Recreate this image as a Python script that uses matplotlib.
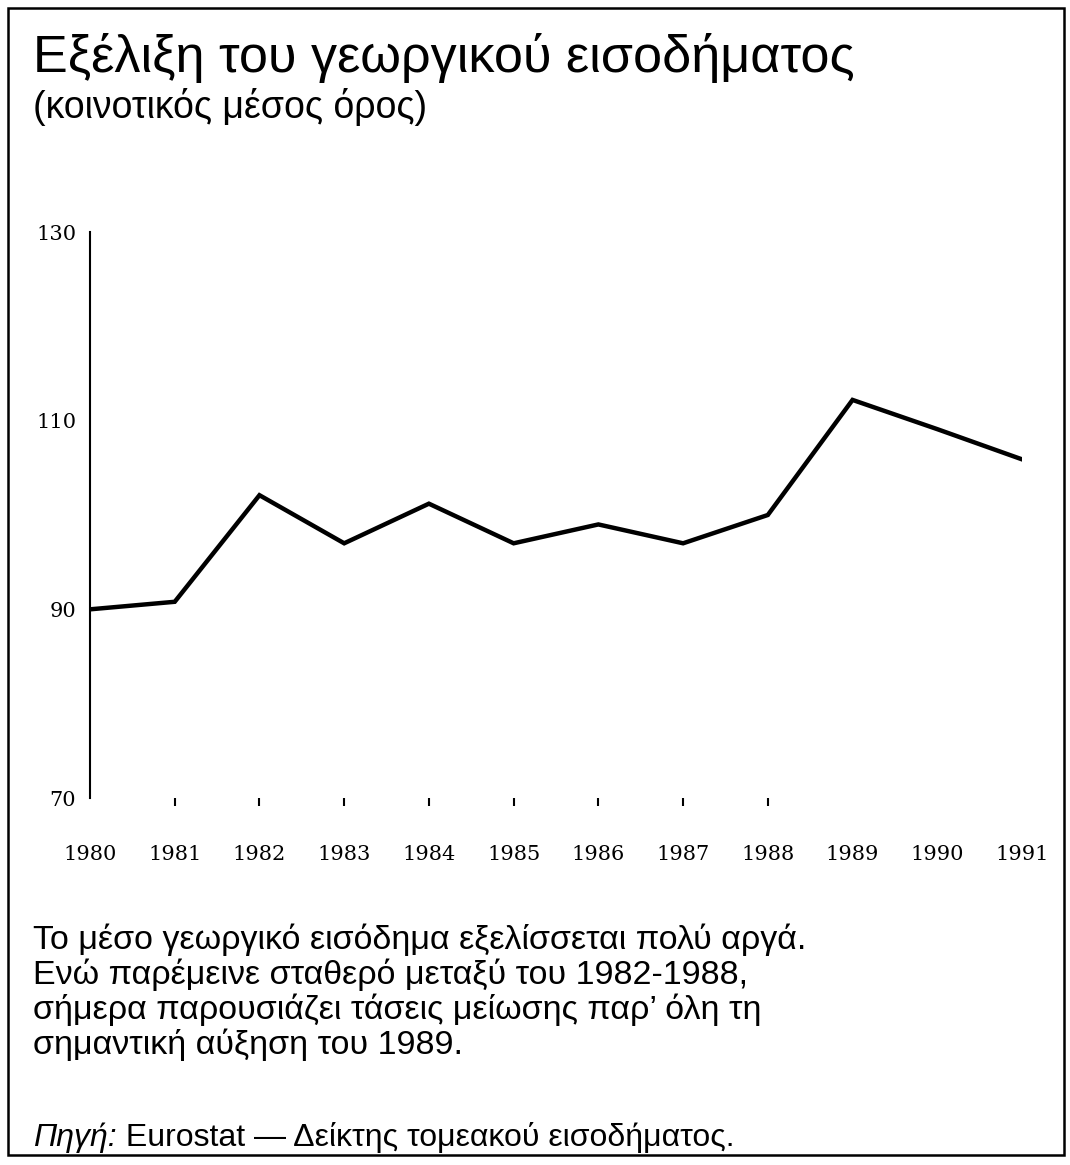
import matplotlib
matplotlib.use("Agg")
import matplotlib.pyplot as plt
from matplotlib.patches import Rectangle

years = [1980, 1981, 1982, 1983, 1984, 1985, 1986, 1987, 1988, 1989, 1990, 1991]
income = [90.0, 90.8, 102.1, 97.0, 101.2, 97.0, 99.0, 97.0, 100.0, 112.2, 109.1, 105.9]
yticks = [70, 90, 110, 130]
tick_years = [1981, 1982, 1983, 1984, 1985, 1986, 1987, 1988]

title = "Εξέλιξη του γεωργικού εισοδήματος"
subtitle = "(κοινοτικός μέσος όρος)"
body = ["Το μέσο γεωργικό εισόδημα εξελίσσεται πολύ αργά.",
        "Ενώ παρέμεινε σταθερό μεταξύ του 1982-1988,",
        "σήμερα παρουσιάζει τάσεις μείωσης παρ’ όλη τη",
        "σημαντική αύξηση του 1989."]
source_label = "Πηγή:"
source_text = " Eurostat — Δείκτης τομεακού εισοδήματος."

W, H = 1070, 1165
fig = plt.figure(figsize=(W / 100, H / 100), dpi=100)
fig.patch.set_facecolor("white")

sans = ["Liberation Sans", "DejaVu Sans"]
serif = ["DejaVu Serif", "Liberation Serif"]

ax = fig.add_axes([90 / W, 1 - 798 / H, (1022 - 90) / W, (798 - 232) / H])
ax.plot(years, income, color="black", linewidth=3.2, solid_joinstyle="miter")
ax.set_xlim(1980, 1991)
ax.set_ylim(70, 130)
for s in ["top", "right", "bottom"]:
    ax.spines[s].set_visible(False)
ax.spines["left"].set_linewidth(1.5)
ax.set_yticks(yticks)
ax.set_yticklabels([str(v) for v in yticks], fontfamily=serif, fontsize=15)
ax.tick_params(axis="y", length=0, pad=10)
ax.xaxis.remove_overlapping_locs = False
ax.set_xticks(years)
ax.set_xticklabels([str(y) for y in years], fontfamily=serif, fontsize=15)
ax.tick_params(axis="x", which="major", length=0, pad=34)
ax.set_xticks(tick_years, minor=True)
ax.tick_params(axis="x", which="minor", length=6, width=1.5, direction="out",
               labelbottom=False)
ax.patch.set_alpha(0)

fig.text(33 / W, 1 - 72 / H, title, fontsize=37.5, family=sans, ha="left", va="baseline")
fig.text(33 / W, 1 - 118 / H, subtitle, fontsize=27, family=sans, ha="left", va="baseline")

baselines = [949, 984, 1019, 1054]
for line, yb in zip(body, baselines):
    fig.text(33 / W, 1 - yb / H, line, fontsize=24.5, family=sans, ha="left", va="baseline")

t = fig.text(33 / W, 1 - 1146 / H, source_label, fontsize=23, family=sans, style="italic",
             ha="left", va="baseline")
fig.canvas.draw()
bb = t.get_window_extent()
fig.text(bb.x1 / W, 1 - 1146 / H, source_text, fontsize=23, family=sans, ha="left", va="baseline")

fig.add_artist(Rectangle((8 / W, 1 - 1155 / H), (1064 - 8) / W, (1155 - 8) / H,
                         transform=fig.transFigure, fill=False, edgecolor="black", linewidth=1.8))

fig.savefig("out.png", dpi=100)
